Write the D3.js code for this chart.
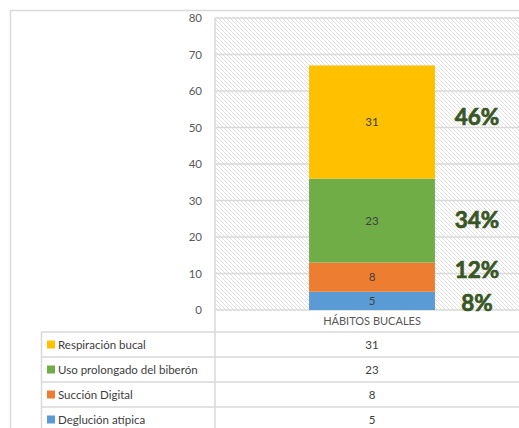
<!DOCTYPE html>
<html>
<head>
<meta charset="utf-8">
<script src="https://cdn.jsdelivr.net/npm/d3@7"></script>
<style>
  body { margin: 0; background: #fff; }
  text { font-family: Lato, "Open Sans", sans-serif; }
</style>
</head>
<body>
<div id="chart"></div>
<script>
var svgWidth = 519;
var svgHeight = 428;

// data (stack order bottom -> top)
var category = "HÁBITOS BUCALES";
var seriesNames = ["Deglución atípica", "Succión Digital", "Uso prolongado del biberón", "Respiración bucal"];
var seriesValues = [5, 8, 23, 31];
var seriesColors = ["#5b9bd5", "#ed7d31", "#70ad47", "#ffc000"];
var percentLabels = ["8%", "12%", "34%", "46%"];
var yTicks = [0, 10, 20, 30, 40, 50, 60, 70, 80];

// where the hand-placed percentage labels sit (baseline, in axis units)
var pctBaseline = [-0.3, 8.8, 22.5, 50.7];

var plot = { left: 215, right: 529, top: 18, bottom: 310 };

var svg = d3.select("#chart")
  .append("svg")
  .attr("width", svgWidth)
  .attr("height", svgHeight);

// hatch pattern for plot background
var defs = svg.append("defs");
var pat = defs.append("pattern")
  .attr("id", "hatch")
  .attr("patternUnits", "userSpaceOnUse")
  .attr("width", 4)
  .attr("height", 4);
pat.append("path")
  .attr("d", "M-1,-1 L5,5 M-1,3 L1,5 M3,-1 L5,1")
  .attr("stroke", "#e0e0e0")
  .attr("stroke-width", 1);

// outer border
svg.append("path")
  .attr("d", "M10.5,428 V10.5 H519")
  .attr("fill", "none")
  .attr("stroke", "#d9d9d9")
  .attr("stroke-width", 1.5);

var y = d3.scaleLinear()
  .domain([0, 80])
  .range([plot.bottom, plot.top]);

var x = d3.scaleBand()
  .domain([category])
  .range([plot.left, plot.right])
  .padding(0.4276);

// background
svg.append("rect")
  .attr("x", plot.left)
  .attr("y", plot.top)
  .attr("width", plot.right - plot.left)
  .attr("height", plot.bottom - plot.top)
  .attr("fill", "url(#hatch)");

// gridlines
svg.append("g")
  .selectAll("line")
  .data(yTicks)
  .enter()
  .append("line")
  .attr("x1", plot.left)
  .attr("x2", plot.right)
  .attr("y1", d => y(d))
  .attr("y2", d => y(d))
  .attr("stroke", "#d9d9d9")
  .attr("stroke-width", 1.5);

// y axis labels
var leftAxis = d3.axisLeft(y).tickValues(yTicks).tickSize(0).tickPadding(13);
var yAxis = svg.append("g")
  .attr("transform", `translate(${plot.left}, 0)`)
  .call(leftAxis);
yAxis.select(".domain").remove();
yAxis.selectAll("text")
  .attr("fill", "#595959")
  .style("font-size", "11.5px")
  .style("font-family", "Lato, sans-serif");

// stacked bar
var cum = 0;
var stack = seriesValues.map(function(v, i) {
  var d = { name: seriesNames[i], value: v, y0: cum, y1: cum + v, color: seriesColors[i], pct: percentLabels[i], pctAt: pctBaseline[i] };
  cum += v;
  return d;
});

var barGroup = svg.append("g");
barGroup.selectAll("rect")
  .data(stack)
  .enter()
  .append("rect")
  .attr("x", x(category))
  .attr("width", x.bandwidth())
  .attr("y", d => y(d.y1))
  .attr("height", d => y(d.y0) - y(d.y1))
  .attr("fill", d => d.color);

barGroup.selectAll("text")
  .data(stack)
  .enter()
  .append("text")
  .attr("x", x(category) + x.bandwidth() / 2)
  .attr("y", d => y((d.y0 + d.y1) / 2))
  .attr("dy", "0.35em")
  .attr("text-anchor", "middle")
  .attr("fill", "#404040")
  .style("font-size", "11.5px")
  .text(d => d.value);

// percentage labels
svg.append("g")
  .selectAll("text")
  .data(stack)
  .enter()
  .append("text")
  .attr("x", 477)
  .attr("y", d => y(d.pctAt))
  .attr("text-anchor", "middle")
  .attr("fill", "#375623")
  .attr("stroke", "#375623")
  .attr("stroke-width", 0.7)
  .style("font-size", "22.5px")
  .style("font-weight", "bold")
  .text(d => d.pct);

// category label
svg.append("text")
  .attr("x", x(category) + x.bandwidth() / 2)
  .attr("y", 321)
  .attr("dy", "0.35em")
  .attr("text-anchor", "middle")
  .attr("fill", "#595959")
  .style("font-size", "11px")
  .text(category);

// vertical axis line through table
svg.append("line")
  .attr("x1", plot.left).attr("x2", plot.left)
  .attr("y1", plot.top).attr("y2", svgHeight)
  .attr("stroke", "#d9d9d9")
  .attr("stroke-width", 1.5);

// data table
var rowH = 25;
var tableTop = 332;
var tableRows = stack.slice().reverse();
var table = svg.append("g");

tableRows.forEach(function(d, i) {
  var ty = tableTop + i * rowH;
  table.append("line")
    .attr("x1", 41).attr("x2", svgWidth)
    .attr("y1", ty).attr("y2", ty)
    .attr("stroke", "#d9d9d9").attr("stroke-width", 1.5);
  table.append("rect")
    .attr("x", 47).attr("y", ty + rowH / 2 - 4)
    .attr("width", 8).attr("height", 8)
    .attr("fill", d.color);
  table.append("text")
    .attr("x", 58).attr("y", ty + rowH / 2)
    .attr("dy", "0.35em")
    .attr("fill", "#404040")
    .style("font-size", "11.5px")
    .text(d.name);
  table.append("text")
    .attr("x", x(category) + x.bandwidth() / 2).attr("y", ty + rowH / 2)
    .attr("dy", "0.35em")
    .attr("text-anchor", "middle")
    .attr("fill", "#404040")
    .style("font-size", "11.5px")
    .text(d.value);
});

table.append("line")
  .attr("x1", 41.5).attr("x2", 41.5)
  .attr("y1", tableTop).attr("y2", svgHeight)
  .attr("stroke", "#d9d9d9").attr("stroke-width", 1.5);
</script>
</body>
</html>
